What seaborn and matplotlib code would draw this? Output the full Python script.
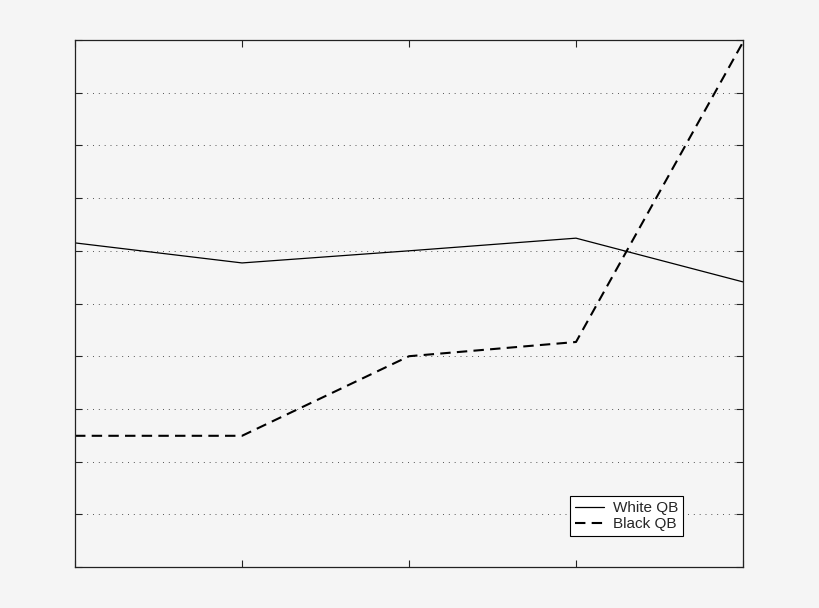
import pandas as pd
import matplotlib
matplotlib.use("Agg")
import matplotlib.pyplot as plt
import seaborn as sns

# Values (no labels shown, arbitrary 0-10 scale)
periods = [0, 1, 2, 3, 4]
white_qb = [6.15, 5.77, 6.0, 6.24, 5.41]
black_qb = [2.49, 2.49, 4.0, 4.27, 9.96]

df = pd.DataFrame({
    "period": periods * 2,
    "value": white_qb + black_qb,
    "qb": ["White QB"] * len(periods) + ["Black QB"] * len(periods),
})

sns.set_style("ticks")
plt.rcParams["font.family"] = ["Liberation Sans", "DejaVu Sans"]

fig = plt.figure(figsize=(8.2, 6.08), dpi=100, facecolor="#f5f5f5")
ax = fig.add_axes([0.0915, 0.0674, 0.8146, 0.8668])
ax.set_facecolor("#f5f5f5")

sns.lineplot(data=df, x="period", y="value", style="qb",
             dashes={"White QB": "", "Black QB": (5, 3)},
             color="black", ax=ax)
for line, lw in zip(ax.lines, [0.9, 1.5]):
    line.set_linewidth(lw)

ax.set_xlim(0, 4)
ax.set_ylim(0, 10)
ax.set_xticks(range(5))
ax.set_yticks(range(11))
ax.set_xticklabels([])
ax.set_yticklabels([])
ax.set_xlabel("")
ax.set_ylabel("")
ax.tick_params(direction="in", length=5, width=0.8, top=True, right=True, color="#222222")
for s in ax.spines.values():
    s.set_visible(True)
    s.set_linewidth(0.9)
    s.set_color("#222222")
ax.yaxis.grid(True, linestyle=(0, (1, 5)), color="#555555", linewidth=0.7)

leg = ax.legend(title=None, loc="lower left", bbox_to_anchor=(0.741, 0.059),
                borderaxespad=0, fancybox=False, framealpha=1, edgecolor="black",
                fontsize=11, handlelength=1.9, borderpad=0.3, labelspacing=0.15,
                handletextpad=0.6)
leg.get_frame().set_linewidth(0.8)
leg.get_frame().set_facecolor("white")
for h, lw in zip(leg.get_lines(), [0.9, 1.5]):
    h.set_linewidth(lw)

fig.savefig("out.png", dpi=100, facecolor=fig.get_facecolor())
